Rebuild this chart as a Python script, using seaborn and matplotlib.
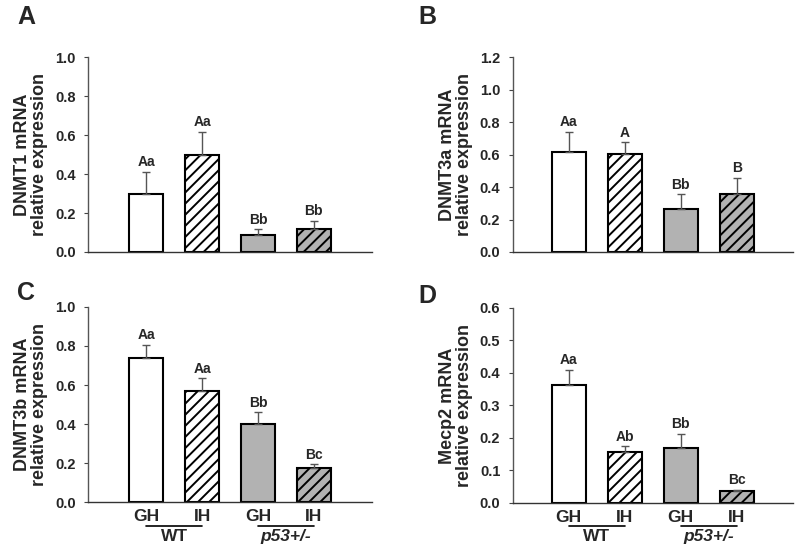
import matplotlib
matplotlib.use("Agg")
import matplotlib.pyplot as plt
import matplotlib.transforms as mtransforms
import seaborn as sns
import pandas as pd

# ---------------- data ----------------
conditions = ["WT GH", "WT IH", "p53 GH", "p53 IH"]
tick_labels = ["GH", "IH", "GH", "IH"]
genotypes = ["WT", "p53+/-"]

dnmt1_mean = [0.295, 0.500, 0.087, 0.116]
dnmt1_err = [0.115, 0.117, 0.029, 0.044]
dnmt1_sig = ["Aa", "Aa", "Bb", "Bb"]

dnmt3a_mean = [0.613, 0.603, 0.263, 0.355]
dnmt3a_err = [0.127, 0.072, 0.092, 0.102]
dnmt3a_sig = ["Aa", "A", "Bb", "B"]

dnmt3b_mean = [0.736, 0.569, 0.400, 0.174]
dnmt3b_err = [0.071, 0.065, 0.060, 0.020]
dnmt3b_sig = ["Aa", "Aa", "Bb", "Bc"]

mecp2_mean = [0.364, 0.157, 0.169, 0.036]
mecp2_err = [0.046, 0.017, 0.044, 0.003]
mecp2_sig = ["Aa", "Ab", "Bb", "Bc"]

ylabels = ["DNMT1 mRNA\nrelative expression", "DNMT3a mRNA\nrelative expression",
           "DNMT3b mRNA\nrelative expression", "Mecp2 mRNA\nrelative expression"]
panel_letters = ["A", "B", "C", "D"]
ylims = [1.0, 1.2, 1.0, 0.6]
ysteps = [0.2, 0.2, 0.2, 0.1]

# ---------------- style ----------------
sns.set_style("ticks")
plt.rcParams["font.family"] = ["Liberation Sans", "DejaVu Sans"]
plt.rcParams["font.weight"] = "bold"
plt.rcParams["hatch.linewidth"] = 1.4

fills = {"WT GH": "white", "WT IH": "white", "p53 GH": "#b2b2b2", "p53 IH": "#b2b2b2"}
hatches = ["", "///", "", "///"]

fig = plt.figure(figsize=(8.0, 5.49), dpi=100)

axes_rects = [
    [0.110, 0.541, 0.355, 0.355],
    [0.641, 0.541, 0.350, 0.355],
    [0.110, 0.085, 0.355, 0.356],
    [0.641, 0.084, 0.350, 0.355],
]
xlims = [(-1.04, 4.04), (-1.0, 4.0), (-1.04, 4.04), (-1.0, 4.0)]
letter_pos = [(26, 17), (427, 17), (26, 293), (427, 296)]

means = [dnmt1_mean, dnmt3a_mean, dnmt3b_mean, mecp2_mean]
errs = [dnmt1_err, dnmt3a_err, dnmt3b_err, mecp2_err]
sigs = [dnmt1_sig, dnmt3a_sig, dnmt3b_sig, mecp2_sig]

for i in range(4):
    ax = fig.add_axes(axes_rects[i])
    df = pd.DataFrame({"cond": conditions, "val": means[i]})
    sns.barplot(data=df, x="cond", y="val", hue="cond", palette=fills,
                order=conditions, hue_order=conditions, width=0.6,
                edgecolor="black", linewidth=1.5, legend=False, ax=ax,
                errorbar=None)
    for p, h in zip(ax.patches, hatches):
        if h:
            p.set_hatch(h)
    xs = list(range(len(conditions)))
    ax.errorbar(xs, means[i], yerr=[[0] * 4, errs[i]], fmt="none",
                ecolor="#555555", elinewidth=1.0, capsize=3.2, capthick=1.0,
                zorder=1)
    for x, m, e, s in zip(xs, means[i], errs[i], sigs[i]):
        ax.annotate(s, (x, m + e), xytext=(0, 2), textcoords="offset points",
                    ha="center", va="bottom", fontsize=10, fontweight="bold")

    ax.set_xlim(*xlims[i])
    ax.set_ylim(0, ylims[i])
    n = int(round(ylims[i] / ysteps[i]))
    ticks = [round(k * ysteps[i], 2) for k in range(n + 1)]
    ax.set_yticks(ticks)
    ax.set_yticklabels([f"{t:.1f}" for t in ticks], fontsize=10.5, fontweight="bold")
    ax.tick_params(axis="y", direction="out", length=3, width=0.8,
                   color="#444444", pad=6)
    ax.set_ylabel(ylabels[i], fontsize=13, fontweight="bold", labelpad=5,
                  linespacing=1.0)
    ax.set_xlabel("")
    sns.despine(ax=ax)
    ax.spines["left"].set_color("#555555")
    ax.spines["bottom"].set_color("#333333")
    ax.spines["left"].set_linewidth(1.0)
    ax.spines["bottom"].set_linewidth(1.0)
    ax.set_xticks(xs)
    if i >= 2:
        ax.set_xticklabels(tick_labels, fontsize=12.5, fontweight="bold")
        ax.tick_params(axis="x", length=0, pad=5)
        trans = mtransforms.blended_transform_factory(ax.transData, ax.transAxes)
        for g, (a, b) in enumerate([(0, 1), (2, 3)]):
            ax.plot([a, b], [-0.121, -0.121], color="black", lw=1.2,
                    transform=trans, clip_on=False)
            ax.text((a + b) / 2, -0.135, genotypes[g], transform=trans,
                    ha="center", va="top", fontsize=12.5, fontweight="bold",
                    style="italic" if g == 1 else "normal")
    else:
        ax.set_xticklabels([])
        ax.tick_params(axis="x", length=0)

    lx, ly = letter_pos[i]
    fig.text(lx / 800, 1 - ly / 549, panel_letters[i], ha="center", va="center",
             fontsize=18, fontweight="bold")

fig.savefig("out.png", dpi=100)
